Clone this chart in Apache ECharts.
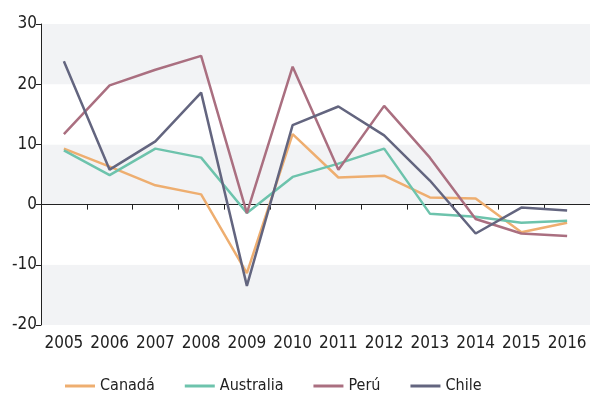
<!DOCTYPE html>
<html>
<head>
<meta charset="utf-8">
<script src="https://cdn.jsdelivr.net/npm/echarts@6/dist/echarts.min.js"></script>
<style>
  html, body { margin: 0; padding: 0; background: #fff; }
  #chart { width: 590px; height: 396px; }
</style>
</head>
<body>
<div id="chart"></div>
<script>
var years = ['2005', '2006', '2007', '2008', '2009', '2010', '2011', '2012', '2013', '2014', '2015', '2016']
var canada = [9.3, 6.3, 3.2, 1.7, -11.4, 11.7, 4.5, 4.8, 1.2, 1.0, -4.6, -3.0]
var australia = [9.0, 4.9, 9.3, 7.8, -1.4, 4.6, 6.8, 9.3, -1.5, -2.0, -3.0, -2.7]
var peru = [11.7, 19.8, 22.4, 24.7, -1.4, 22.9, 5.8, 16.4, 7.8, -2.4, -4.8, -5.2]
var chile = [23.8, 5.8, 10.5, 18.6, -13.5, 13.2, 16.3, 11.5, 4.0, -4.8, -0.5, -1.0]
var names = ['Canadá', 'Australia', 'Perú', 'Chile']
var colors = ['#eeae70', '#6dc3ac', '#aa6f80', '#63657f'] // canada australia peru chile

var font = '"DejaVu Sans Condensed", "Liberation Sans Narrow", sans-serif'
var chart = echarts.init(document.getElementById('chart'))

function line(name, data, i) {
  return {
    name: name,
    type: 'line',
    data: data,
    symbol: 'none',
    lineStyle: { color: colors[i], width: 2.5 },
    itemStyle: { color: colors[i] },
    animation: false
  }
}

chart.setOption({
  grid: { left: 41, right: 0, top: 24, bottom: 71 },
  legend: {
    bottom: -3,
    left: 60,
    itemWidth: 30,
    itemHeight: 3,
    itemGap: 30,
    icon: 'rect',
    textStyle: { fontFamily: font, fontSize: 16, color: '#222' },
    data: names
  },
  xAxis: [{
    type: 'category',
    position: 'bottom',
    data: years,
    axisLine: { show: false, onZero: false },
    axisTick: { show: false },
    axisLabel: { interval: 0, fontFamily: font, fontSize: 17, color: '#222', margin: 10 }
  }, {
    type: 'category',
    position: 'top',
    data: years,
    axisLine: { show: true, onZero: true, lineStyle: { color: '#222', width: 1 } },
    axisTick: { show: true, interval: 0, inside: true, length: 5, lineStyle: { color: '#222' } },
    axisLabel: { show: false }
  }],
  yAxis: {
    type: 'value',
    min: -20,
    max: 30,
    interval: 10,
    axisLine: { show: true, lineStyle: { color: '#222' } },
    axisTick: { show: true, length: 5, lineStyle: { color: '#222' } },
    axisLabel: { fontFamily: font, fontSize: 17, color: '#222', margin: 4 },
    splitLine: { show: false },
    splitArea: { show: true, areaStyle: { color: ['#f2f3f5', '#ffffff'] } }
  },
  series: [
    line(names[0], canada, 0),
    line(names[1], australia, 1),
    line(names[2], peru, 2),
    line(names[3], chile, 3)
  ]
})
</script>
</body>
</html>
